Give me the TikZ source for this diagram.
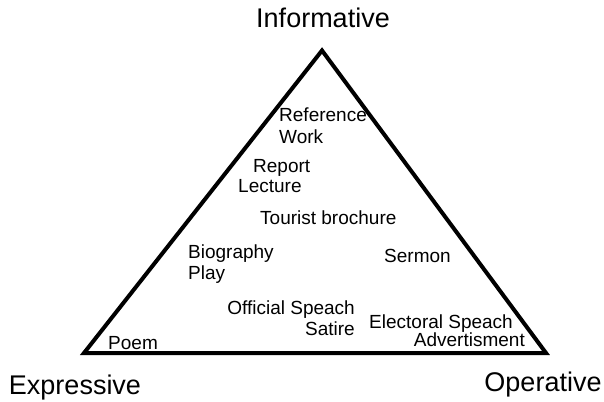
\documentclass[tikz,border=0pt]{standalone}
\usepackage{fontspec}
\setmainfont{Liberation Sans}

\tikzset{every node/.style={inner sep=0pt}}

\begin{document}
\begin{tikzpicture}[x=1pt, y=-1pt,
		corner/.style={font=\fontsize{27}{30}\selectfont, anchor=base},
		genre/.style={font=\fontsize{19}{21}\selectfont, anchor=base west},
		genreR/.style={font=\fontsize{19}{21}\selectfont, anchor=base east}]
		\useasboundingbox (0,0) rectangle (604,401);
		% Draw the triangle
		\coordinate (I) at (322,50.5);
		\coordinate (E) at (84,353);
		\coordinate (O) at (546,353);
		\draw[line width=4pt] (I) -- (E) -- (O) -- cycle;
		
		% The three corners
		\node[corner] (inf) at (323,28) {Informative};
		\node[corner] (exp) at (75,394.5) {Expressive};
		\node[corner] (ope) at (543,391) {Operative};
		
		% Text types inside
		\node[genre] (ref) at (279,121.5) {Reference};
		\node[genre] (wor) at (279,143.5) {Work};
		\node[genre] (rep) at (253,172.5) {Report};
		\node[genre] (lec) at (238,192.5) {Lecture};
		\node[genre] (tou) at (260,224.5) {Tourist brochure};
		\node[genre] (bio) at (188,258.5) {Biography};
		\node[genre] (pla) at (188,279.5) {Play};
		\node[genre] (ser) at (384,262.5) {Sermon};
		\node[genreR] (off) at (355,314.5) {Official Speach};
		\node[genreR] (sat) at (355,335.5) {Satire};
		\node[genre] (ele) at (369,328.5) {Electoral Speach};
		\node[genreR] (adv) at (525,346.5) {Advertisment};
		\node[genre] (poe) at (108,349.5) {Poem};
		
	\end{tikzpicture}
\end{document}
